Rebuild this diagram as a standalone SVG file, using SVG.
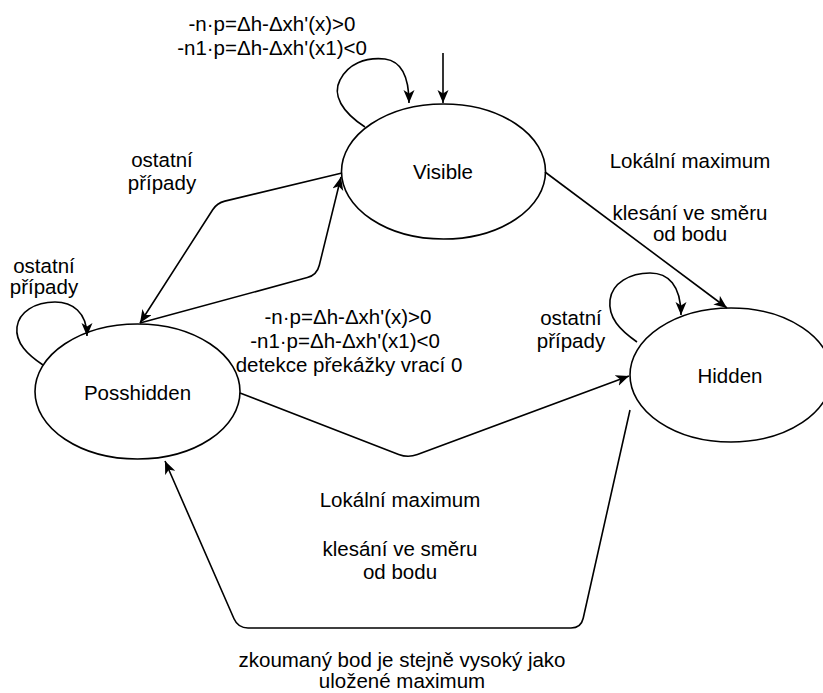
<svg xmlns="http://www.w3.org/2000/svg" width="823" height="693" viewBox="0 0 823 693">
  <style>
    .node { fill: #ffffff; stroke: #000000; stroke-width: 1.6; }
    .edge { fill: none; stroke: #000000; stroke-width: 1.6; marker-end: url(#arrow); }
    text { font-family: "Liberation Sans", Arial, sans-serif; font-size: 20.5px; fill: #000000; text-anchor: middle; }
  </style>
  <defs>
    <marker id="arrow" markerUnits="userSpaceOnUse" markerWidth="14" markerHeight="12" refX="13" refY="5.5" orient="auto">
      <path d="M0,0 L13,5.5 L0,11 L3.5,5.5 Z" fill="#000000"/>
    </marker>
  </defs>
  <rect width="823" height="693" fill="#ffffff"/>

  <g id="node-visible">
    <ellipse class="node" cx="443.5" cy="171.5" rx="102" ry="67.5"/>
    <text x="443" y="179">Visible</text>
  </g>
  <g id="node-posshidden">
    <ellipse class="node" cx="137.5" cy="391.5" rx="102.5" ry="67.5"/>
    <text x="137.5" y="400">Posshidden</text>
  </g>
  <g id="node-hidden">
    <ellipse class="node" cx="731" cy="375" rx="101" ry="67"/>
    <text x="730" y="383">Hidden</text>
  </g>

  <g id="connectors">
    <path class="edge" d="M443,53 L443,103"/>
    <path class="edge" d="M365,127 C342,112 332,95 340,80 C348,64 365,57 385,59 C400,61 409,75 409,103"/>
    <path class="edge" d="M342,173 L224.8,201.1 Q217,203 212.7,209.7 L140,323"/>
    <path class="edge" d="M140,323 L307.3,277.6 Q317,275 319.3,265.3 L341,177"/>
    <path class="edge" d="M43,365 C28,355 15,343 17,327 C19,312 35,302 55,302 C72,302 87,312 87,336"/>
    <path class="edge" d="M545,172 L727,308"/>
    <path class="edge" d="M637,342 C620,330 608,318 610,300 C612,283 630,273 650,273 C668,273 681,285 681,315"/>
    <path class="edge" d="M240,393 L398.7,454.4 Q408,458 417.4,454.5 L629,376"/>
    <path class="edge" d="M630,410 L583.2,618.2 Q581,628 571,628 L248,628 Q238,628 234,618.8 L165,461"/>
  </g>

  <g id="labels">
    <text x="272" y="31">-n·p=Δh-Δxh'(x)&gt;0</text>
    <text x="272" y="55">-n1·p=Δh-Δxh'(x1)&lt;0</text>

    <text x="162" y="167">ostatní</text>
    <text x="162" y="190">případy</text>

    <text x="44" y="273">ostatní</text>
    <text x="44" y="294">případy</text>

    <text x="348" y="324">-n·p=Δh-Δxh'(x)&gt;0</text>
    <text x="345" y="348">-n1·p=Δh-Δxh'(x1)&lt;0</text>
    <text x="349" y="372">detekce překážky vrací 0</text>

    <text x="690" y="168">Lokální maximum</text>
    <text x="690" y="220">klesání ve směru</text>
    <text x="690" y="241">od bodu</text>

    <text x="571" y="325">ostatní</text>
    <text x="571" y="348">případy</text>

    <text x="400" y="507">Lokální maximum</text>
    <text x="400" y="556">klesání ve směru</text>
    <text x="400" y="579">od bodu</text>

    <text x="402" y="667">zkoumaný bod je stejně vysoký jako</text>
    <text x="402" y="688">uložené maximum</text>
  </g>
</svg>
